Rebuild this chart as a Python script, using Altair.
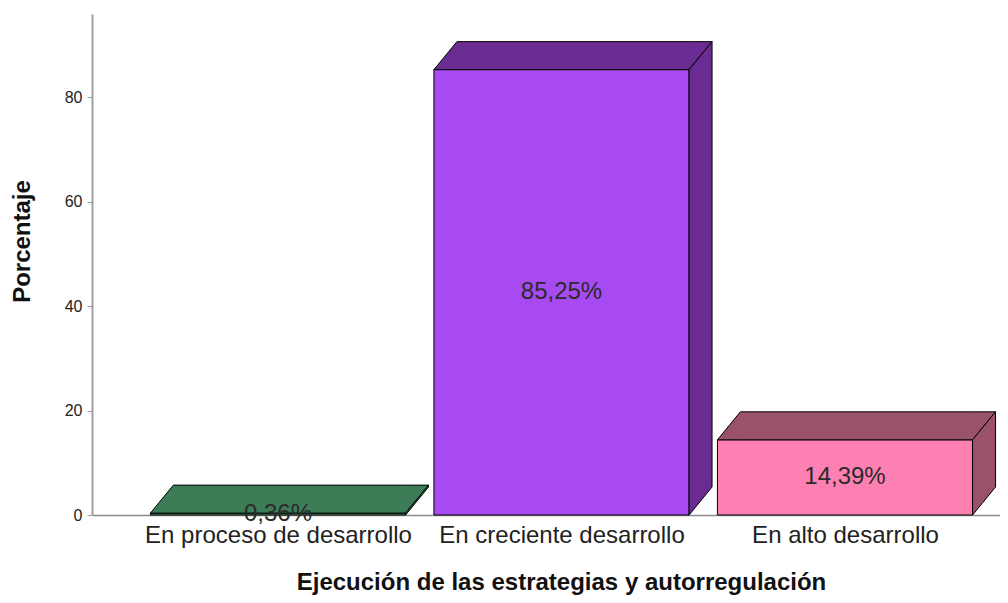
import json
import altair as alt
import pandas as pd

categories = ["En proceso de desarrollo", "En creciente desarrollo", "En alto desarrollo"]
values = [0.36, 85.25, 14.39]
labels = ["0,36%", "85,25%", "14,39%"]
front_colors = ["#4a9e6c", "#a84af2", "#fe80b3"]
dark_colors = ["#3c7c56", "#6a2c93", "#9a526c"]

# layout constants (style, not data)
HALF = 0.45      # half width of the front face, in category units
DX = 0.081       # depth offset in category units
DY = 5.36        # depth offset in percent units
FONT = "Liberation Sans"

front_rows, top_rows, side_rows = [], [], []
for i, (c, v) in enumerate(zip(categories, values)):
    x0, x1 = i - HALF, i + HALF
    front_rows.append({"cat": c, "x0": x0, "x1": x1, "y0": 0, "v": v,
                       "fill": front_colors[i], "mid": v / 2, "lab": labels[i], "xc": i})
    for x, lo, hi in [(x0, v, v), (x0 + DX, v, v + DY), (x1, v, v + DY), (x1 + DX, v + DY, v + DY)]:
        top_rows.append({"cat": c, "x": x, "lo": lo, "hi": hi, "fill": dark_colors[i]})
    for x, lo, hi in [(x1, 0, v), (x1 + DX, DY, v + DY)]:
        side_rows.append({"cat": c, "x": x, "lo": lo, "hi": hi, "fill": dark_colors[i]})

front = pd.DataFrame(front_rows)
top = pd.DataFrame(top_rows)
side = pd.DataFrame(side_rows)

xscale = alt.Scale(domain=[-0.6561, 2.5467], nice=False, zero=False)
yscale = alt.Scale(domain=[0, 95.9], nice=False)

label_expr = json.dumps(categories) + "[round(datum.value)]"

xaxis = alt.Axis(values=[0, 1, 2], labelExpr=label_expr, grid=False, ticks=False,
                 domainColor="#8c8c8c", domainWidth=1.5, labelFont=FONT, labelFontSize=24,
                 labelColor="#222222", labelPadding=8, labelAngle=0, labelLimit=0,
                 title="Ejecución de las estrategias y autorregulación",
                 titleFont=FONT, titleFontSize=24, titleFontWeight="bold", titleColor="#111111",
                 titleX=469, titleY=74, titleBaseline="alphabetic", titleAlign="center")
yaxis = alt.Axis(values=[0, 20, 40, 60, 80], grid=False, tickSize=5, tickColor="#a0a0a0",
                 domainColor="#a0a0a0", domainWidth=2, labelFont=FONT, labelFontSize=16,
                 labelColor="#222222", labelPadding=5, title="Porcentaje",
                 titleFont=FONT, titleFontSize=24, titleFontWeight="bold", titleColor="#111111",
                 titleX=-70, titleY=227, titleAngle=270, titleBaseline="middle", titleAlign="center")

fronts = alt.Chart(front).mark_rect(stroke="black", strokeWidth=1).encode(
    x=alt.X("x0:Q", scale=xscale, axis=xaxis),
    x2="x1:Q",
    y=alt.Y("y0:Q", scale=yscale, axis=yaxis),
    y2="v:Q",
    fill=alt.Fill("fill:N", scale=None),
)

tops = alt.Chart(top).mark_area(stroke="black", strokeWidth=1, orient="vertical").encode(
    x=alt.X("x:Q", scale=xscale),
    y=alt.Y("lo:Q", scale=yscale),
    y2="hi:Q",
    fill=alt.Fill("fill:N", scale=None),
    detail="cat:N",
)

sides = alt.Chart(side).mark_area(stroke="black", strokeWidth=1, orient="vertical").encode(
    x=alt.X("x:Q", scale=xscale),
    y=alt.Y("lo:Q", scale=yscale),
    y2="hi:Q",
    fill=alt.Fill("fill:N", scale=None),
    detail="cat:N",
)

texts = alt.Chart(front).mark_text(font=FONT, fontSize=24, color="#2a2a2a", baseline="middle").encode(
    x=alt.X("xc:Q", scale=xscale),
    y=alt.Y("mid:Q", scale=yscale),
    text="lab:N",
)

chart = alt.layer(fronts, tops, sides, texts).properties(
    width=908, height=501,
    background="white",
    autosize=alt.AutoSizeParams(type="none"),
    padding={"left": 84, "top": 6, "right": 0, "bottom": 80},
).configure_view(stroke=None)

chart.save("out.html", embed_options={"renderer": "svg", "actions": False})
